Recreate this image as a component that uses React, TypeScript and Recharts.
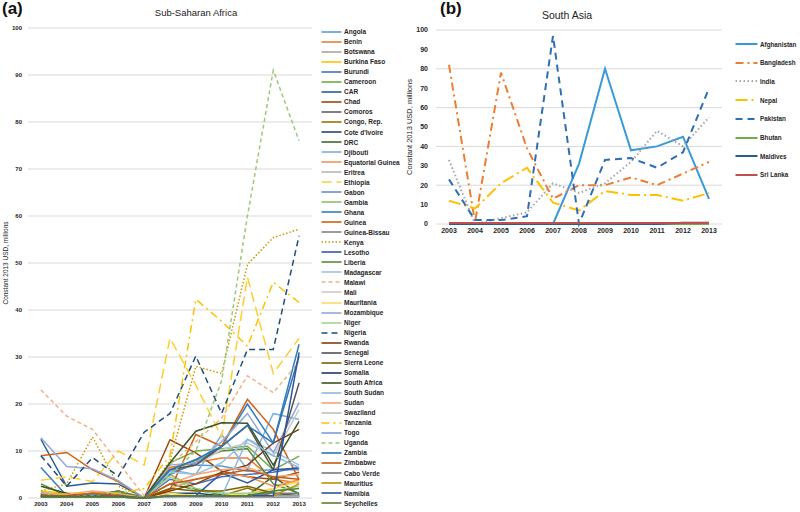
import { LineChart, Line, XAxis, YAxis, CartesianGrid } from 'recharts';

const FONT = "'Liberation Sans Narrow', 'Arial Narrow', 'Liberation Sans', Arial, sans-serif";
const TITLE_FONT = "'Liberation Sans', Arial, sans-serif";

const years = ['2003', '2004', '2005', '2006', '2007', '2008', '2009', '2010', '2011', '2012', '2013'];
const yTicks = [0, 10, 20, 30, 40, 50, 60, 70, 80, 90, 100];

// Sub-Saharan Africa, constant 2013 USD millions
const angola = [0.5, 0.3, 0.3, 0.5, 0, 5.5, 7, 6.8, 5.7, 6, 6];
const benin = [0.8, 0.5, 1, 0.8, 0, 6.5, 7.5, 8.5, 8.5, 4, 3.2];
const botswana = [0.3, 0.2, 0.2, 0.2, 0, 0.5, 0.5, 0.3, 0.3, 0.3, 0.5];
const burkinaFaso = [1.5, 1, 0.8, 0.5, 0, 1, 0.5, 0.5, 0.5, 2, 3.9];
const burundi = [0.5, 0.5, 0.4, 0.3, 0, 4, 3, 4.5, 5, 5.5, 6.5];
const cameroon = [0.5, 0.3, 0.5, 0.3, 0, 7.5, 10, 10.5, 11, 6, 8.9];
const car = [12.5, 2.5, 3.2, 3, 0, 0.5, 0.5, 0.5, 0.3, 0.3, 0.3];
const chad = [1, 0.5, 1, 1.2, 0, 12.4, 9.6, 5.7, 4.5, 4, 5.5];
const comoros = [0.2, 0.2, 0.2, 0.2, 0, 0.3, 0.3, 0.3, 0.3, 0.3, 0.3];
const congo = [0.5, 0.3, 0.3, 0.5, 0, 0.5, 0.5, 0.5, 2.1, 0.2, 0.3];
const coteDIvoire = [0.8, 0.5, 0.3, 0.5, 0, 1, 1, 0.5, 0.5, 0.5, 0.5];
const drc = [1, 0.8, 0.5, 1.5, 0, 3, 1.8, 0.7, 0.5, 4.6, 0.7];
const djibouti = [0.3, 0.3, 0.3, 0.3, 0, 6, 5, 13.5, 6, 18, 16.7];
const eqGuinea = [0.3, 0.3, 0.3, 0.3, 0, 2, 4, 5.3, 4.6, 2.5, 3.9];
const eritrea = [0.5, 0.3, 0.5, 0.3, 0, 0.5, 0.5, 0.5, 0.5, 0.5, 0.5];
const ethiopia = [3.8, 4.5, 3.5, 10, 7, 34, 24, 13, 47, 26.5, 34];
const gabon = [0.2, 0.2, 0.2, 0.2, 0, 0.3, 0.3, 0.3, 0.3, 0.3, 0.3];
const gambia = [0.3, 0.3, 0.3, 0.3, 0, 5, 2, 1, 0.5, 0.5, 1];
const ghana = [6.5, 0.5, 0.8, 0.5, 0, 5, 7.5, 11, 20, 11.7, 32.7];
const guinea = [9, 9.7, 6, 3.5, 0, 1.8, 13.5, 11, 21, 14.6, 3.9];
const guineaBissau = [0.3, 0.2, 0.2, 0.3, 0, 0.5, 0.3, 0.3, 0.3, 0.3, 0.3];
const kenya = [1.5, 3, 13, 2.5, 0, 8, 28, 26.5, 49.7, 55.4, 57.2];
const lesotho = [0.3, 0.3, 0.3, 0.2, 0, 0.5, 0.5, 5.3, 3.2, 6, 6.4];
const liberia = [3, 0.5, 0.5, 1.5, 0, 6, 8, 10, 10.5, 3, 1];
const madagascar = [0.5, 0.5, 1, 0.5, 0, 5.5, 5, 7.5, 12.5, 10, 7];
const malawi = [23, 17.4, 14.6, 7.5, 0.5, 7, 12, 17, 26, 22.4, 29];
const mali = [0.5, 0.5, 1, 0.5, 0, 6, 7, 10.3, 11.7, 8.9, 18.8];
const mauritania = [0.5, 0.3, 0.3, 0.5, 0, 1, 0.5, 0.5, 1, 2, 3.5];
const mozambique = [12.8, 6.7, 6.2, 3.7, 0, 7, 7.5, 12, 18, 9.6, 20.3];
const niger = [0.3, 0.3, 0.3, 0.5, 0, 4.5, 1.5, 1, 1, 1.5, 2.5];
const nigeria = [9, 2.5, 8.6, 4.6, 14, 18, 30.2, 18, 31.6, 31.6, 55.8];
const rwanda = [0.5, 0.5, 0.5, 0.5, 0, 1.5, 3, 5.5, 7, 11.7, 14.6];
const senegal = [0.5, 0.3, 0.5, 0.5, 0, 6, 7, 11, 15.5, 6, 24.5];
const sierraLeone = [0.5, 0.5, 0.5, 0.5, 0, 2, 1.5, 1.5, 2.5, 1, 0.5];
const somalia = [0.3, 0.3, 0.3, 0.3, 0, 0.3, 0.5, 0.5, 0.5, 0.5, 0.5];
const southAfrica = [2.5, 1, 0.5, 1, 0, 7.5, 14.2, 16, 15.9, 7, 16.3];
const southSudan = [0.2, 0.2, 0.2, 0.2, 0, 0.3, 0.3, 0.3, 12.5, 9, 6.5];
const sudan = [1, 0.8, 1.5, 1, 0, 3, 5, 6, 6.5, 4.5, 5];
const swaziland = [0.2, 0.2, 0.2, 0.2, 0, 0.3, 0.3, 0.3, 0.3, 0.3, 0.3];
const tanzania = [0.5, 0.8, 1, 1, 2, 9, 42.3, 37.6, 32.3, 45.9, 41.6];
const togo = [0.3, 0.3, 0.3, 0.3, 0, 0.5, 0.5, 0.5, 0.5, 0.5, 0.5];
const uganda = [1, 0.5, 0.5, 1, 0, 5, 10, 25, 60, 91, 76];
const zambia = [0.5, 0.3, 0.3, 0.5, 0, 6, 8.2, 11, 15.4, 11.7, 30.2];
const zimbabwe = [0.5, 0.5, 1, 0.5, 0, 3, 4, 5, 6, 4.5, 4];
const caboVerde = [0.2, 0.2, 0.2, 0.2, 0, 0.5, 0.5, 0.5, 0.5, 1, 1];
const mauritius = [0.2, 0.2, 0.2, 0.2, 0, 0.5, 0.5, 0.5, 0.5, 0.5, 3];
const namibia = [0.3, 0.3, 0.3, 0.3, 0, 0.5, 0.5, 0.5, 0.5, 0.5, 31];
const seychelles = [0.2, 0.2, 0.2, 0.2, 0, 0.5, 0.5, 0.5, 0.5, 1.5, 2];

const ssaNames = [
  'Angola', 'Benin', 'Botswana', 'Burkina Faso', 'Burundi', 'Cameroon', 'CAR', 'Chad', 'Comoros',
  'Congo, Rep.', "Cote d'Ivoire", 'DRC', 'Djibouti', 'Equatorial Guinea', 'Eritrea', 'Ethiopia',
  'Gabon', 'Gambia', 'Ghana', 'Guinea', 'Guinea-Bissau', 'Kenya', 'Lesotho', 'Liberia',
  'Madagascar', 'Malawi', 'Mali', 'Mauritania', 'Mozambique', 'Niger', 'Nigeria', 'Rwanda',
  'Senegal', 'Sierra Leone', 'Somalia', 'South Africa', 'South Sudan', 'Sudan', 'Swaziland',
  'Tanzania', 'Togo', 'Uganda', 'Zambia', 'Zimbabwe', 'Cabo Verde', 'Mauritius', 'Namibia', 'Seychelles',
];
const ssaValues = [
  angola, benin, botswana, burkinaFaso, burundi, cameroon, car, chad, comoros, congo, coteDIvoire,
  drc, djibouti, eqGuinea, eritrea, ethiopia, gabon, gambia, ghana, guinea, guineaBissau, kenya,
  lesotho, liberia, madagascar, malawi, mali, mauritania, mozambique, niger, nigeria, rwanda,
  senegal, sierraLeone, somalia, southAfrica, southSudan, sudan, swaziland, tanzania, togo, uganda,
  zambia, zimbabwe, caboVerde, mauritius, namibia, seychelles,
];
const ssaColors = [
  '#5B9BD5', '#ED7D31', '#A5A5A5', '#FFC000', '#4472C4', '#70AD47', '#255E91', '#9E480E', '#636363',
  '#997300', '#264478', '#43682B', '#7CAFDD', '#F1975A', '#B7B7B7', '#FFCD33', '#698ED0', '#8CC168',
  '#327DC2', '#D26012', '#848484', '#CC9A00', '#335AA1', '#5A8A39', '#9DC3E6', '#F4B183', '#C9C9C9',
  '#FFD966', '#8FAADC', '#A9D18E', '#1F4E79', '#843C0C', '#525252', '#7F6000', '#203864', '#385723',
  '#8CB8E2', '#F3A675', '#C0C0C0', '#FFC000', '#7F9FD8', '#9BC97A', '#2E75B6', '#C55A11', '#7B7B7B',
  '#BF9000', '#2F5597', '#548235',
];
const ssaDashes: Record<string, string> = {
  Ethiopia: '10 5',
  Kenya: '1.5 2',
  Malawi: '4 3',
  Nigeria: '6 4',
  Tanzania: '8 4 2 4',
  Uganda: '4 3',
};

// South Asia
const afghanistan = [null, null, null, null, 0, 31, 80, 38, 40, 45, 13];
const bangladesh = [82, 1, 78, 39, 13, 20, 20, 24, 20, 26, 32];
const india = [33, 0, 3, 6, 21, 16, 21, 32, 48, 40, 55];
const nepal = [12, 8, 21, 29, 11, 7, 17, 15, 15, 12, 16];
const pakistan = [23, 2, 2, 4, 97, 0, 33, 34, 29, 37, 70];
const bhutan = [0, 0, 0, 0, 0, 0, 0, 0, 0, 0, 0];
const maldives = [0, 0, 0, 0, 0, 0, 0, 0, 0, 0.6, 0.6];
const sriLanka = [0.5, 0.5, 0.5, 0.5, 0.5, 0.5, 0.5, 0.5, 0.5, 0.5, 0.5];

const saNames = ['Afghanistan', 'Bangladesh', 'India', 'Nepal', 'Pakistan', 'Bhutan', 'Maldives', 'Sri Lanka'];
const saValues = [afghanistan, bangladesh, india, nepal, pakistan, bhutan, maldives, sriLanka];
const saColors = ['#3A9AD9', '#ED7D31', '#A5A5A5', '#FFC000', '#2F6DB5', '#70AD47', '#255E91', '#C0504D'];
const saDashes = [undefined, '8 4 2 4', '1.5 2.5', '12 4 2 4', '7 5', undefined, undefined, undefined];

function buildRows(values: (number | null)[][]) {
  return years.map((year, i) => {
    const row: Record<string, any> = { year };
    values.forEach((v, k) => {
      row['s' + k] = v[i];
    });
    return row;
  });
}

const ssaRows = buildRows(ssaValues);
const saRows = buildRows(saValues);

const rotated = (cx: number, cy: number, size: number, text: string) => (
  <div
    style={{
      position: 'absolute',
      left: cx,
      top: cy,
      transform: 'translate(-50%, -50%) rotate(-90deg)',
      whiteSpace: 'nowrap',
      fontFamily: FONT,
      fontSize: size,
      color: '#262626',
      lineHeight: 1,
    }}
  >
    {text}
  </div>
);

export default function App() {
  const tickStyleA = { fontSize: 6, fill: '#262626', fontFamily: FONT, fontWeight: 700 };
  const tickStyleB = { fontSize: 7, fill: '#262626', fontFamily: FONT, fontWeight: 700 };

  return (
    <div style={{ position: 'absolute', left: 0, top: 0, width: 800, height: 512, background: '#fff', overflow: 'hidden' }}>
      {/* panel (a) */}
      <div style={{ position: 'absolute', left: 2, top: -1, fontFamily: TITLE_FONT, fontSize: 17, fontWeight: 700, color: '#111' }}>(a)</div>
      <div style={{ position: 'absolute', left: 96, top: 7, width: 200, textAlign: 'center', fontFamily: TITLE_FONT, fontSize: 9.5, lineHeight: '12px', color: '#222' }}>
        Sub-Saharan Africa
      </div>
      <div style={{ position: 'absolute', left: 0, top: 0 }}>
        <LineChart width={320} height={512} data={ssaRows} margin={{ top: 28, right: 8, bottom: 0, left: 0 }}>
          <CartesianGrid vertical={false} stroke="#d9d9d9" />
          <XAxis
            dataKey="year"
            axisLine={false}
            tickLine={false}
            tickSize={0}
            tickMargin={4}
            height={14}
            interval={0}
            padding={{ left: 12.9, right: 12.9 }}
            tick={tickStyleA}
          />
          <YAxis
            domain={[0, 100]}
            ticks={yTicks}
            width={28}
            axisLine={false}
            tickLine={false}
            tickSize={0}
            tickMargin={6}
            tick={tickStyleA}
          />
          {ssaNames.map((name, k) => (
            <Line
              key={name}
              name={name}
              dataKey={'s' + k}
              type="linear"
              stroke={ssaColors[k]}
              strokeWidth={1.5}
              strokeDasharray={ssaDashes[name]}
              dot={false}
              activeDot={false}
              isAnimationActive={false}
            />
          ))}
        </LineChart>
      </div>
      {rotated(6, 263, 6.5, 'Constant 2013 USD, millions')}
      {ssaNames.map((name, k) => (
        <div
          key={name}
          style={{ position: 'absolute', left: 321, top: 31.7 + k * 10.03 - 5, height: 10, display: 'flex', alignItems: 'center' }}
        >
          <svg width={21} height={10}>
            <line x1={0.5} y1={5} x2={20.5} y2={5} stroke={ssaColors[k]} strokeWidth={1.6} strokeDasharray={ssaDashes[name]} />
          </svg>
          <span style={{ marginLeft: 2, fontFamily: FONT, fontSize: 6.5, fontWeight: 700, color: '#262626', whiteSpace: 'nowrap' }}>{name}</span>
        </div>
      ))}

      {/* panel (b) */}
      <div style={{ position: 'absolute', left: 440, top: -1, fontFamily: TITLE_FONT, fontSize: 17, fontWeight: 700, color: '#111' }}>(b)</div>
      <div style={{ position: 'absolute', left: 467, top: 8, width: 200, textAlign: 'center', fontFamily: TITLE_FONT, fontSize: 10.5, lineHeight: '14px', color: '#222' }}>
        South Asia
      </div>
      <div style={{ position: 'absolute', left: 400, top: 0 }}>
        <LineChart width={330} height={245} data={saRows} margin={{ top: 30, right: 8, bottom: 0, left: 0 }}>
          <CartesianGrid vertical={false} stroke="#d9d9d9" />
          <XAxis
            dataKey="year"
            axisLine={false}
            tickLine={false}
            tickSize={0}
            tickMargin={4}
            height={21}
            interval={0}
            padding={{ left: 13, right: 13 }}
            tick={tickStyleB}
          />
          <YAxis
            domain={[0, 100]}
            ticks={yTicks}
            width={36}
            axisLine={false}
            tickLine={false}
            tickSize={0}
            tickMargin={8}
            tick={tickStyleB}
          />
          {saNames.map((name, k) => (
            <Line
              key={name}
              name={name}
              dataKey={'s' + k}
              type="linear"
              stroke={saColors[k]}
              strokeWidth={2}
              strokeDasharray={saDashes[k]}
              dot={false}
              activeDot={false}
              connectNulls={false}
              isAnimationActive={false}
            />
          ))}
        </LineChart>
      </div>
      {rotated(410, 127, 7.5, 'Constant 2013 USD, millions')}
      {saNames.map((name, k) => (
        <div
          key={name}
          style={{ position: 'absolute', left: 735, top: 44 + k * 18.7 - 6, height: 12, display: 'flex', alignItems: 'center' }}
        >
          <svg width={23} height={12}>
            <line x1={0.5} y1={6} x2={22.5} y2={6} stroke={saColors[k]} strokeWidth={2} strokeDasharray={saDashes[k]} />
          </svg>
          <span style={{ marginLeft: 2, fontFamily: FONT, fontSize: 6.3, fontWeight: 700, color: '#262626', whiteSpace: 'nowrap' }}>{name}</span>
        </div>
      ))}
    </div>
  );
}
